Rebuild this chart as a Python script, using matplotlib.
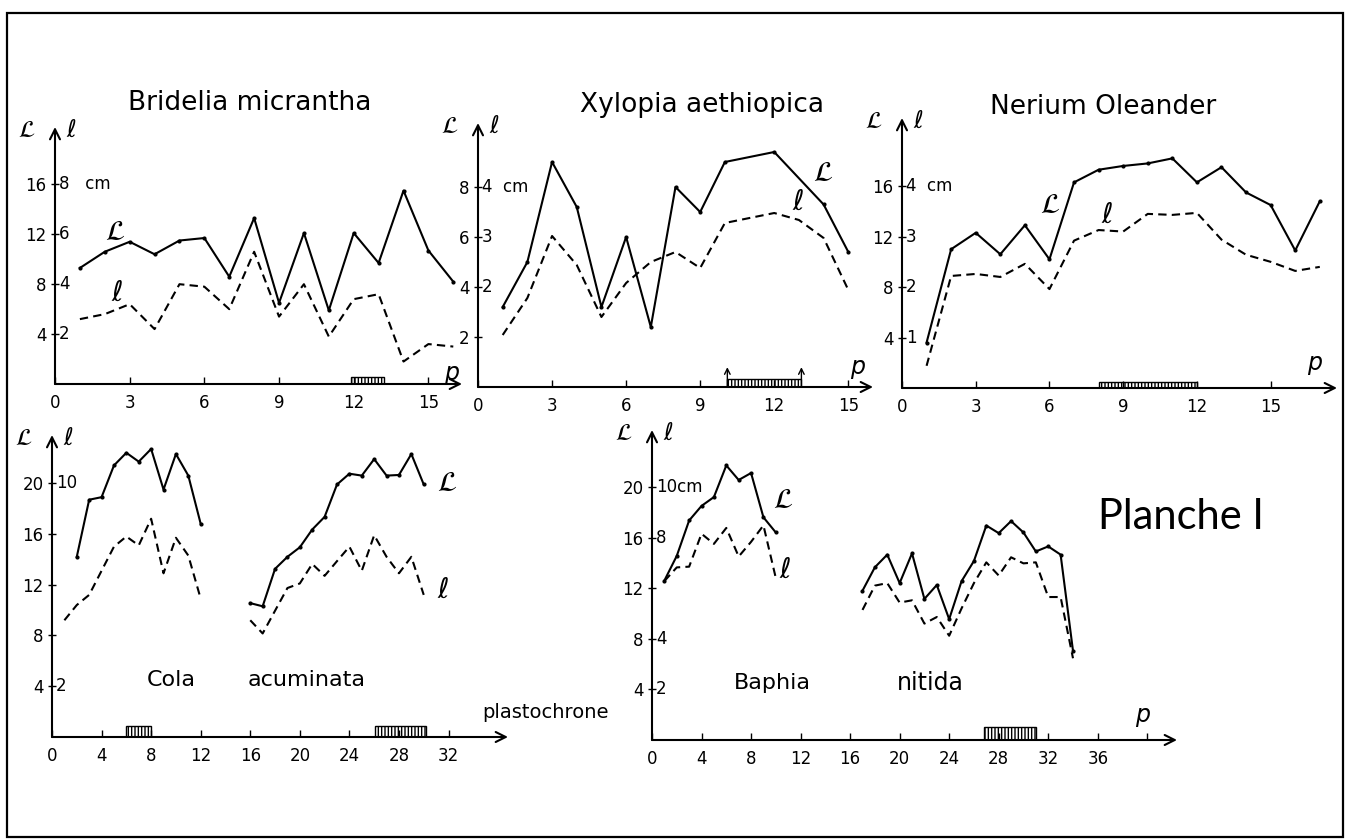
import numpy as np
import matplotlib
matplotlib.use("Agg")
import matplotlib.pyplot as plt
from matplotlib.patches import Rectangle

# ---- data (L = leaf length, l = leaf width, p = plastochrone) ----
# Bridelia micrantha
bri_p = [1, 2, 3, 4, 5, 6, 7, 8, 9, 10, 11, 12, 13, 14, 15, 16]
bri_L = [9.3, 10.6, 11.4, 10.4, 11.5, 11.7, 8.6, 13.3, 6.5, 12.1, 5.9, 12.1, 9.7, 15.5, 10.7, 8.2]
bri_l = [2.6, 2.8, 3.2, 2.2, 4.0, 3.9, 3.0, 5.3, 2.7, 4.0, 1.9, 3.4, 3.6, 0.9, 1.6, 1.5]
bri_bar = [(11.9, 13.2)]

# Xylopia aethiopica
xyl_pL = [1, 2, 3, 4, 5, 6, 7, 8, 9, 10, 12, 14, 15]
xyl_L = [3.2, 5.0, 9.0, 7.2, 3.2, 6.0, 2.4, 8.0, 7.0, 9.0, 9.4, 7.3, 5.4]
xyl_pl = [1, 2, 3, 4, 5, 6, 7, 8, 9, 10, 12, 13, 14, 15]
xyl_l = [1.04, 1.78, 3.02, 2.44, 1.4, 2.08, 2.5, 2.7, 2.38, 3.28, 3.48, 3.34, 2.98, 1.94]
xyl_bar = [(10.1, 13.1)]

# Nerium Oleander
ner_p = [1, 2, 3, 4, 5, 6, 7, 8, 9, 10, 11, 12, 13, 14, 15, 16, 17]
ner_L = [3.6, 11.0, 12.3, 10.6, 12.9, 10.2, 16.3, 17.3, 17.6, 17.8, 18.2, 16.3, 17.5, 15.5, 14.5, 10.9, 14.8]
ner_l = [0.44, 2.22, 2.26, 2.2, 2.46, 1.96, 2.92, 3.13, 3.1, 3.45, 3.43, 3.47, 2.94, 2.64, 2.5, 2.32, 2.4]
ner_bar = [(8.0, 12.0)]

# Cola acuminata (two series of leaves)
cola_pL1 = [2, 3, 4, 5, 6, 7, 8, 9, 10, 11, 12]
cola_L1 = [14.2, 18.7, 18.9, 21.4, 22.4, 21.7, 22.7, 19.5, 22.3, 20.6, 16.8]
cola_pl1 = [1, 2, 3, 5, 6, 7, 8, 9, 10, 11, 12]
cola_l1 = [4.6, 5.2, 5.6, 7.5, 7.9, 7.55, 8.6, 6.45, 7.85, 7.15, 5.45]
cola_pL2 = [16, 17, 18, 19, 20, 21, 22, 23, 24, 25, 26, 27, 28, 29, 30]
cola_L2 = [10.55, 10.3, 13.25, 14.2, 14.95, 16.35, 17.35, 19.9, 20.75, 20.6, 21.9, 20.6, 20.65, 22.3, 19.9]
cola_pl2 = [16, 17, 19, 20, 21, 22, 23, 24, 25, 26, 27, 28, 29, 30]
cola_l2 = [4.6, 4.08, 5.87, 6.05, 6.82, 6.35, 6.93, 7.5, 6.55, 7.95, 7.1, 6.45, 7.1, 5.6]
cola_bar = [(6.0, 8.0), (26.1, 30.2)]

# Baphia nitida (two series of leaves)
bap_p1 = [1, 2, 3, 4, 5, 6, 7, 8, 9, 10]
bap_L1 = [12.6, 14.55, 17.35, 18.5, 19.2, 21.7, 20.55, 21.1, 17.6, 16.4]
bap_l1 = [6.28, 6.82, 6.85, 8.15, 7.75, 8.38, 7.25, 7.83, 8.48, 6.4]
bap_p2 = [17, 18, 19, 20, 21, 22, 23, 24, 25, 26, 27, 28, 29, 30, 31, 32, 33, 34]
bap_L2 = [11.8, 13.65, 14.65, 12.4, 14.75, 11.15, 12.25, 9.55, 12.55, 14.15, 16.95, 16.35, 17.3, 16.4, 14.9, 15.3, 14.65, 7.05]
bap_l2 = [5.14, 6.1, 6.2, 5.43, 5.52, 4.6, 4.86, 4.12, 5.2, 6.2, 7.02, 6.5, 7.22, 6.98, 7.02, 5.65, 5.65, 3.23]
bap_bar = [(26.8, 31.0)]

W, H = 1345, 840
fig = plt.figure(figsize=(W / 100, H / 100), dpi=100)
plt.rcParams['font.family'] = 'DejaVu Sans'
plt.rcParams['hatch.linewidth'] = 1.0

LW = 1.5
DASH = (4, 2.5)


def ftxt(x, y, s, **kw):
    kw.setdefault('ha', 'center')
    kw.setdefault('va', 'center')
    fig.text(x / W, 1 - y / H, s, **kw)


def make_panel(x0, x1, yb, yt, xmax, ymax, ratio, xticks, xlabels, yticks, ylabels, l_labels):
    ax = fig.add_axes([x0 / W, 1 - yb / H, (x1 - x0) / W, (yb - yt) / H])
    ax.set_xlim(0, xmax)
    ax.set_ylim(0, ymax)
    for s in ax.spines.values():
        s.set_visible(False)
    arrow = dict(arrowstyle='->', lw=LW, color='black', shrinkA=0, shrinkB=0,
                 mutation_scale=18)
    ax.annotate('', xy=(0, 1), xytext=(0, 0), xycoords='axes fraction', arrowprops=arrow)
    ax.annotate('', xy=(1, 0), xytext=(0, 0), xycoords='axes fraction', arrowprops=arrow)
    ax.set_xticks(xticks)
    ax.set_xticklabels(xlabels, fontsize=12)
    ax.set_yticks(yticks)
    ax.set_yticklabels(ylabels, fontsize=12)
    ax.tick_params(axis='x', direction='in', length=5, width=1, pad=7)
    ax.tick_params(axis='y', direction='inout', length=6, width=1, pad=3)
    for t, lab in zip(yticks, l_labels):
        if lab:
            ax.annotate(lab, xy=(0, t), xycoords=ax.get_yaxis_transform(),
                        xytext=(3, 0), textcoords='offset points',
                        ha='left', va='center', fontsize=12)
    ax.annotate(r'$\mathcal{L}$', xy=(0, 1), xycoords='axes fraction', xytext=(-14, -2),
                textcoords='offset points', ha='right', va='center', fontsize=17)
    ax.annotate(r'$\ell$', xy=(0, 1), xycoords='axes fraction', xytext=(8, -2),
                textcoords='offset points', ha='left', va='center', fontsize=17)
    ax.patch.set_alpha(0)
    ax2 = ax.twinx()
    ax2.set_ylim(0, ymax / ratio)
    ax2.axis('off')
    return ax, ax2


def curves(ax, ax2, pL, L, pl, l):
    ax.plot(pL, L, color='black', lw=LW, marker='o', ms=2)
    ax2.plot(pl, l, color='black', lw=LW, ls=(0, DASH))


def bars(ax, spans, h, arrows=False):
    starts = [a for a, b in spans]
    widths = [b - a for a, b in spans]
    ax.bar(starts, [h] * len(spans), width=widths, align='edge', fill=False,
           hatch='|||||', edgecolor='black', lw=1.0)
    if arrows:
        for a, b in spans:
            for x in (a, b):
                ax.annotate('', xy=(x, h * 2.4), xytext=(x, 0),
                            arrowprops=dict(arrowstyle='->', lw=1, color='black',
                                            shrinkA=0, shrinkB=0))


# Bridelia
ax, ax2 = make_panel(55, 462, 384, 127, 16.35, 20.6, 2,
                     [0, 3, 6, 9, 12, 15], ['0', '3', '6', '9', '12', '15'],
                     [4, 8, 12, 16], ['4', '8', '12', '16'], ['2', '4', '6', '8   cm'])
curves(ax, ax2, bri_p, bri_L, bri_p, bri_l)
bars(ax, bri_bar, 0.55)

# Xylopia
ax, ax2 = make_panel(478, 873, 387, 123, 16.0, 10.56, 2,
                     [0, 3, 6, 9, 12, 15], ['0', '3', '6', '9', '12', '15'],
                     [2, 4, 6, 8], ['2', '4', '6', '8'], ['', '2', '3', '4  cm'])
curves(ax, ax2, xyl_pL, xyl_L, xyl_pl, xyl_l)
bars(ax, xyl_bar, 0.33, arrows=True)

# Nerium
ax, ax2 = make_panel(902, 1337, 388, 118, 17.7, 21.4, 4,
                     [0, 3, 6, 9, 12, 15], ['0', '3', '6', '9', '12', '15'],
                     [4, 8, 12, 16], ['4', '8', '12', '16'], ['1', '2', '3', '4  cm'])
curves(ax, ax2, ner_p, ner_L, ner_p, ner_l)
bars(ax, ner_bar, 0.5)

# Cola
ax, ax2 = make_panel(52, 508, 737, 435, 36.8, 23.8, 2,
                     [0, 4, 8, 12, 16, 20, 24, 28, 32],
                     ['0', '4', '8', '12', '16', '20', '24', '28', '32'],
                     [4, 8, 12, 16, 20], ['4', '8', '12', '16', '20'],
                     ['2', '', '', '', '10'])
curves(ax, ax2, cola_pL1, cola_L1, cola_pl1, cola_l1)
curves(ax, ax2, cola_pL2, cola_L2, cola_pl2, cola_l2)
bars(ax, cola_bar, 0.9)

# Baphia
ax, ax2 = make_panel(652, 1177, 740, 430, 42.4, 24.5, 2,
                     [0, 4, 8, 12, 16, 20, 24, 28, 32, 36, 40],
                     ['0', '4', '8', '12', '16', '20', '24', '28', '32', '36', ''],
                     [4, 8, 12, 16, 20], ['4', '8', '12', '16', '20'],
                     ['2', '4', '', '8', '10cm'])
curves(ax, ax2, bap_p1, bap_L1, bap_p1, bap_l1)
curves(ax, ax2, bap_p2, bap_L2, bap_p2, bap_l2)
bars(ax, bap_bar, 1.0)

# titles and labels
ftxt(250, 103, 'Bridelia micrantha', fontsize=19)
ftxt(702, 105, 'Xylopia aethiopica', fontsize=19)
ftxt(1103, 107, 'Nerium Oleander', fontsize=19)
ftxt(171, 680, 'Cola', fontsize=16)
ftxt(307, 680, 'acuminata', fontsize=16)
ftxt(772, 683, 'Baphia', fontsize=16)
ftxt(930, 683, 'nitida', fontsize=17)
ftxt(545, 713, 'plastochrone', fontsize=14)
ftxt(1181, 517, 'Planche I', fontsize=30, family='Lato')

for x, y in [(452, 373), (858, 367), (1315, 363), (1143, 715)]:
    ftxt(x, y, 'p', fontsize=17, style='italic')

for x, y in [(115, 232), (823, 173), (1050, 205), (447, 483), (783, 500)]:
    ftxt(x, y, r'$\mathcal{L}$', fontsize=20)
for x, y in [(117, 293), (798, 202), (1107, 215), (443, 590), (785, 570)]:
    ftxt(x, y, r'$\ell$', fontsize=20)

# frame of the plate
fig.add_artist(Rectangle((7 / W, 3 / H), (1343 - 7) / W, (837 - 13) / H,
                         transform=fig.transFigure, fill=False, lw=1.6, color='black'))

plt.savefig('out.png', dpi=100)
print("saved out.png")
